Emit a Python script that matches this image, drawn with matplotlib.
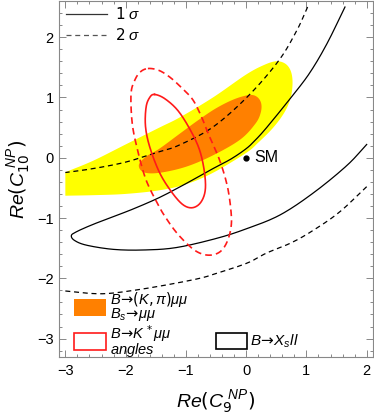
import numpy as np
import matplotlib
matplotlib.use("Agg")
import matplotlib.pyplot as plt
from matplotlib.patches import Rectangle
from matplotlib.ticker import MultipleLocator

plt.rcParams['font.family'] = ['Liberation Sans', 'DejaVu Sans']
plt.rcParams['mathtext.fontset'] = 'custom'
plt.rcParams['mathtext.rm'] = 'DejaVu Sans'
plt.rcParams['mathtext.it'] = 'Liberation Sans:italic'
plt.rcParams['mathtext.bf'] = 'Liberation Sans:bold'

# ---------------- data ----------------
# B->(K,pi)mumu, Bs->mumu : 2 sigma (yellow) open outline, closed straight at x=-3
yellow_x = [-3.0, -2.54, -2.0, -1.44, -1.1, -0.55, 0.0, 0.3, 0.5, 0.65, 0.74, 0.77, 0.74, 0.64, 0.45, 0.2, 0.0, -0.55, -1.0, -1.44, -2.0, -2.5, -3.0]
yellow_y = [-0.24, -0.05, 0.22, 0.50, 0.67, 1.0, 1.38, 1.54, 1.6, 1.56, 1.44, 1.25, 1.0, 0.76, 0.5, 0.25, 0.08, -0.25, -0.44, -0.54, -0.6, -0.62, -0.63]
# 1 sigma (orange), closed
orange_x = [-1.78, -1.66, -1.44, -1.1, -0.8, -0.5, -0.2, 0.05, 0.18, 0.25, 0.24, 0.15, -0.1, -0.55, -1.0, -1.44, -1.7]
orange_y = [-0.12, 0.02, 0.15, 0.40, 0.62, 0.82, 0.97, 1.04, 1.01, 0.9, 0.74, 0.56, 0.3, 0.04, -0.15, -0.25, -0.24]
# B->K* mumu angles : 1 sigma (solid red), closed
red1_x = [-1.52, -1.35, -1.13, -0.92, -0.77, -0.69, -0.68, -0.76, -0.9, -1.06, -1.25, -1.44, -1.6, -1.67, -1.66, -1.6]
red1_y = [1.05, 0.98, 0.78, 0.45, 0.12, -0.25, -0.55, -0.75, -0.83, -0.77, -0.55, -0.24, 0.18, 0.52, 0.84, 1.0]
# 2 sigma (dashed red), closed
red2_x = [-1.63, -1.45, -1.27, -1.08, -0.89, -0.75, -0.62, -0.44, -0.31, -0.25, -0.25, -0.31, -0.41, -0.55, -0.72, -0.9, -1.14, -1.33, -1.46, -1.66, -1.8, -1.89, -1.91, -1.85, -1.76]
red2_y = [1.48, 1.45, 1.34, 1.17, 0.97, 0.7, 0.38, -0.04, -0.48, -0.9, -1.15, -1.38, -1.54, -1.61, -1.6, -1.5, -1.26, -1.0, -0.78, -0.37, 0.12, 0.57, 1.06, 1.28, 1.42]
# B->X_s ll : 1 sigma (solid black)
xs1_x = [1.64, 1.34, 1.05, 0.73, 0.34, 0.15, 0.0, -0.25, -0.55, -1.0, -1.44, -1.9, -2.27, -2.6, -2.82, -2.9, -2.85, -2.65, -2.2, -1.7, -1.16, -0.5, 0.0, 0.56, 1.12, 1.67, 2.0]
xs1_y = [2.5, 1.89, 1.40, 0.98, 0.50, 0.29, 0.15, -0.02, -0.18, -0.43, -0.66, -0.86, -1.0, -1.13, -1.23, -1.29, -1.37, -1.45, -1.52, -1.53, -1.49, -1.34, -1.18, -0.95, -0.58, -0.13, 0.22]
# 2 sigma (dashed black), two branches
xs2a_x = [1.02, 0.84, 0.54, 0.03, -0.55, -1.11, -1.44, -1.99, -2.54, -3.0]
xs2a_y = [2.5, 2.11, 1.61, 1.02, 0.51, 0.21, 0.10, -0.07, -0.18, -0.245]
xs2b_x = [-3.0, -2.6, -2.27, -1.8, -1.27, -0.77, -0.5, 0.01, 0.34, 0.75, 1.12, 1.55, 2.0]
xs2b_y = [-2.21, -2.25, -2.25, -2.19, -2.10, -2.0, -1.92, -1.75, -1.58, -1.41, -1.2, -0.9, -0.48]
# Standard Model point
sm_x, sm_y = 0.0, 0.0

xticks = [-3, -2, -1, 0, 1, 2]
yticks = [-3, -2, -1, 0, 1, 2]


def catmull(xs, ys, closed=False, n=16):
    p = np.column_stack([xs, ys]).astype(float)
    if closed:
        p = np.vstack([p[-1], p, p[0], p[1]])
    else:
        p = np.vstack([2 * p[0] - p[1], p, 2 * p[-1] - p[-2]])
    out = []
    t = np.linspace(0, 1, n, endpoint=False)[:, None]
    for i in range(1, len(p) - 2):
        p0, p1, p2, p3 = p[i - 1], p[i], p[i + 1], p[i + 2]
        seg = 0.5 * ((2 * p1) + (-p0 + p2) * t + (2 * p0 - 5 * p1 + 4 * p2 - p3) * t ** 2
                     + (-p0 + 3 * p1 - 3 * p2 + p3) * t ** 3)
        out.append(seg)
    out.append(p[-2][None, :])
    out = np.vstack(out)
    return out[:, 0], out[:, 1]


fig = plt.figure(figsize=(3.74, 4.16), dpi=100)
ax = fig.add_axes([0.1586, 0.1411, 0.8379, 0.8565])

yx, yy = catmull(yellow_x, yellow_y)
ax.fill(yx, yy, color='#ffff00', lw=0, zorder=1)
ox, oy = catmull(orange_x, orange_y, closed=True)
ax.fill(ox, oy, color='#ff8000', lw=0, zorder=2)

bx, by = catmull(xs1_x, xs1_y)
ax.plot(bx, by, color='black', lw=0.9, zorder=3)
dx, dy = catmull(xs2a_x, xs2a_y)
ax.plot(dx, dy, color='black', lw=0.9, ls=(0, (4, 3)), zorder=3)
dx, dy = catmull(xs2b_x, xs2b_y)
ax.plot(dx, dy, color='black', lw=0.9, ls=(0, (4, 3)), zorder=3)

rx, ry = catmull(red1_x, red1_y, closed=True)
ax.plot(rx, ry, color='#ff1a1a', lw=1.2, zorder=4)
rx, ry = catmull(red2_x, red2_y, closed=True)
ax.plot(rx, ry, color='#ff1a1a', lw=1.2, ls=(0, (4, 2.5)), zorder=4)

ax.plot([sm_x], [sm_y], 'o', color='black', ms=3.5, zorder=5)
ax.text(sm_x + 0.14, sm_y, 'SM', fontsize=11.5, va='center', ha='left', zorder=5)

ax.set_xlim(-3.1, 2.1)
ax.set_ylim(-3.31, 2.6)
ax.set_xticks(xticks)
ax.set_yticks(yticks)
ax.set_xticklabels([f'{v}'.replace('-', '\u2212') for v in xticks])
ax.set_yticklabels([f'{v}'.replace('-', '\u2212') for v in yticks])
ax.xaxis.set_minor_locator(MultipleLocator(0.2))
ax.yaxis.set_minor_locator(MultipleLocator(0.2))
ax.tick_params(which='both', direction='in', top=True, right=True, color='#888888', width=0.7)
ax.tick_params(which='major', length=5, labelsize=10.5)
ax.tick_params(axis='x', which='major', pad=5)
ax.tick_params(axis='y', which='major', pad=4)
ax.tick_params(which='minor', length=2.5)
for s in ax.spines.values():
    s.set_color('#888888')
    s.set_linewidth(0.8)

ax.set_xlabel(r'$Re(C_9^{\ NP})$', fontsize=14, labelpad=8)
ax.set_ylabel(r'$Re(C_{10}^{\ NP})$', fontsize=14, labelpad=3)

# top-left legend
T = ax.transAxes
ax.plot([0.021, 0.152], [0.963, 0.963], color='#333333', lw=0.9, transform=T, zorder=6)
ax.text(0.178, 0.963, r'$\mathit{1}\ \sigma$', fontsize=11, va='center', ha='left', transform=T)
ax.plot([0.021, 0.152], [0.905, 0.905], color='#555555', lw=0.9, ls=(0, (4, 3)), transform=T, zorder=6)
ax.text(0.178, 0.905, r'$\mathit{2}\ \sigma$', fontsize=11, va='center', ha='left', transform=T)

# bottom legend
ax.add_patch(Rectangle((0.047, 0.117), 0.102, 0.047, transform=T, facecolor='#ff8000', edgecolor='none', zorder=6))
ax.text(0.162, 0.143, '$B\\!\\rightarrow\\!(K,\\pi)\\mu\\mu$\n$B_s\\!\\rightarrow\\!\\mu\\mu$',
        fontsize=10.5, va='center', ha='left', linespacing=0.8, transform=T)
ax.add_patch(Rectangle((0.047, 0.021), 0.102, 0.047, transform=T, facecolor='white', edgecolor='#ff1a1a', lw=1.2, zorder=6))
ax.text(0.162, 0.045, '$B\\!\\rightarrow\\!K^{\\,*}\\mu\\mu$\n$angles$',
        fontsize=10.5, va='center', ha='left', linespacing=0.8, transform=T)
ax.add_patch(Rectangle((0.50, 0.023), 0.098, 0.045, transform=T, facecolor='white', edgecolor='black', lw=1.2, zorder=6))
ax.text(0.609, 0.046, r'$B\!\rightarrow\!X_s ll$', fontsize=11, va='center', ha='left', transform=T)

fig.savefig('out.png', dpi=100)
